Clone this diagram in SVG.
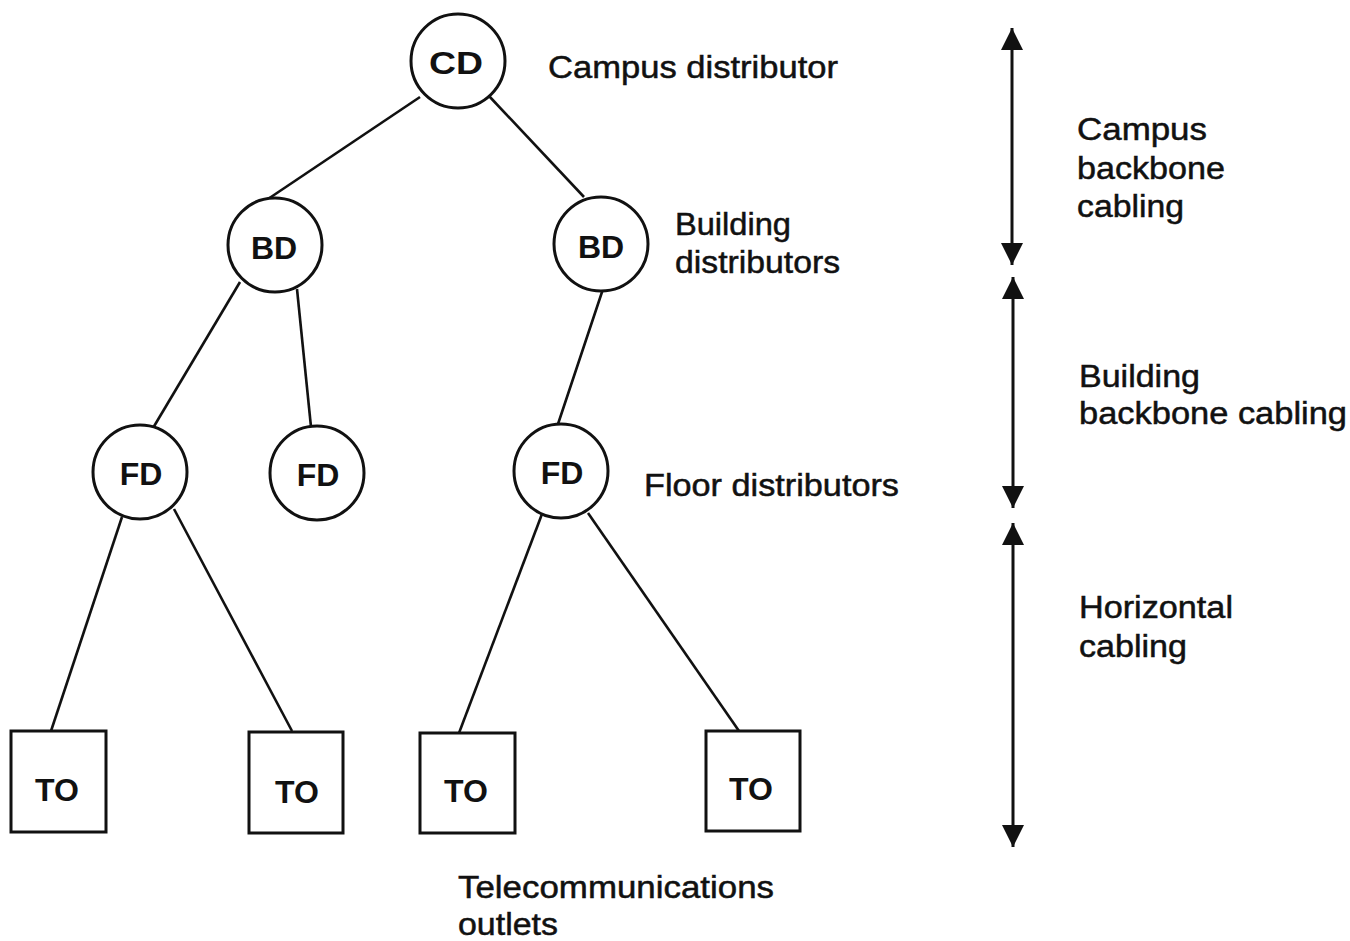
<svg xmlns="http://www.w3.org/2000/svg" width="1350" height="941" viewBox="0 0 1350 941">
<defs>
<style>
.node circle, .node rect { fill: #fff; stroke: #111; stroke-width: 3; }
.lbl { font-family: "Liberation Sans", Arial, sans-serif; font-weight: bold; font-size: 32px; fill: #111; text-anchor: middle; }
.txt { font-family: "Liberation Sans", Arial, sans-serif; font-size: 31px; fill: #111; stroke: #111; stroke-width: 0.5; }
.conn line { stroke: #111; stroke-width: 2.6; fill: none; }
.dim line { stroke: #111; stroke-width: 3; }
</style>
<marker id="ah" viewBox="0 0 22 22" refX="22" refY="11" markerWidth="22" markerHeight="22" markerUnits="userSpaceOnUse" orient="auto-start-reverse">
<path d="M0,0 L22,11 L0,22 Z" fill="#111"/>
</marker>
</defs>
<rect width="1350" height="941" fill="#fff"/>

<g id="connectors" class="conn">
<line x1="420" y1="97" x2="268" y2="199"/>
<line x1="489" y1="96" x2="584" y2="197"/>
<line x1="240" y1="282" x2="153" y2="428"/>
<line x1="297" y1="289" x2="311" y2="427"/>
<line x1="603" y1="289" x2="557" y2="427"/>
<line x1="122" y1="517" x2="51" y2="731"/>
<line x1="174" y1="509" x2="292" y2="731"/>
<line x1="542" y1="514" x2="459" y2="733"/>
<line x1="588" y1="513" x2="739" y2="731"/>
</g>

<g id="node-cd" class="node">
<circle cx="458" cy="61" r="47"/>
<text class="lbl" x="456" y="74" textLength="54" lengthAdjust="spacingAndGlyphs">CD</text>
</g>
<g id="node-bd1" class="node">
<circle cx="275" cy="245" r="47"/>
<text class="lbl" x="274" y="259">BD</text>
</g>
<g id="node-bd2" class="node">
<circle cx="601" cy="244" r="47"/>
<text class="lbl" x="601" y="258">BD</text>
</g>
<g id="node-fd1" class="node">
<circle cx="140" cy="472" r="47"/>
<text class="lbl" x="141" y="485">FD</text>
</g>
<g id="node-fd2" class="node">
<circle cx="317" cy="473" r="47"/>
<text class="lbl" x="318" y="486">FD</text>
</g>
<g id="node-fd3" class="node">
<circle cx="561" cy="471" r="47"/>
<text class="lbl" x="562" y="484">FD</text>
</g>
<g id="node-to1" class="node">
<rect x="11" y="731" width="95" height="101"/>
<text class="lbl" x="57" y="801">TO</text>
</g>
<g id="node-to2" class="node">
<rect x="249" y="732" width="94" height="101"/>
<text class="lbl" x="297" y="803">TO</text>
</g>
<g id="node-to3" class="node">
<rect x="420" y="733" width="95" height="100"/>
<text class="lbl" x="466" y="802">TO</text>
</g>
<g id="node-to4" class="node">
<rect x="706" y="731" width="94" height="100"/>
<text class="lbl" x="751" y="800">TO</text>
</g>

<g id="labels">
<text class="txt" x="548" y="78" textLength="290" lengthAdjust="spacingAndGlyphs">Campus distributor</text>
<text class="txt" x="675" y="235" textLength="116" lengthAdjust="spacingAndGlyphs">Building</text>
<text class="txt" x="675" y="273" textLength="165" lengthAdjust="spacingAndGlyphs">distributors</text>
<text class="txt" x="644" y="496" textLength="255" lengthAdjust="spacingAndGlyphs">Floor distributors</text>
<text class="txt" x="458" y="898" textLength="316" lengthAdjust="spacingAndGlyphs">Telecommunications</text>
<text class="txt" x="458" y="935" textLength="100" lengthAdjust="spacingAndGlyphs">outlets</text>
<text class="txt" x="1077" y="140" textLength="130" lengthAdjust="spacingAndGlyphs">Campus</text>
<text class="txt" x="1077" y="179" textLength="148" lengthAdjust="spacingAndGlyphs">backbone</text>
<text class="txt" x="1077" y="217" textLength="107" lengthAdjust="spacingAndGlyphs">cabling</text>
<text class="txt" x="1079" y="387" textLength="121" lengthAdjust="spacingAndGlyphs">Building</text>
<text class="txt" x="1079" y="424" textLength="268" lengthAdjust="spacingAndGlyphs">backbone cabling</text>
<text class="txt" x="1079" y="618" textLength="154" lengthAdjust="spacingAndGlyphs">Horizontal</text>
<text class="txt" x="1079" y="657" textLength="108" lengthAdjust="spacingAndGlyphs">cabling</text>
</g>

<g id="dimensions" class="dim">
<line x1="1012" y1="28" x2="1012" y2="265" marker-start="url(#ah)" marker-end="url(#ah)"/>
<line x1="1013" y1="277" x2="1013" y2="508" marker-start="url(#ah)" marker-end="url(#ah)"/>
<line x1="1013" y1="523" x2="1013" y2="847" marker-start="url(#ah)" marker-end="url(#ah)"/>
</g>
</svg>
